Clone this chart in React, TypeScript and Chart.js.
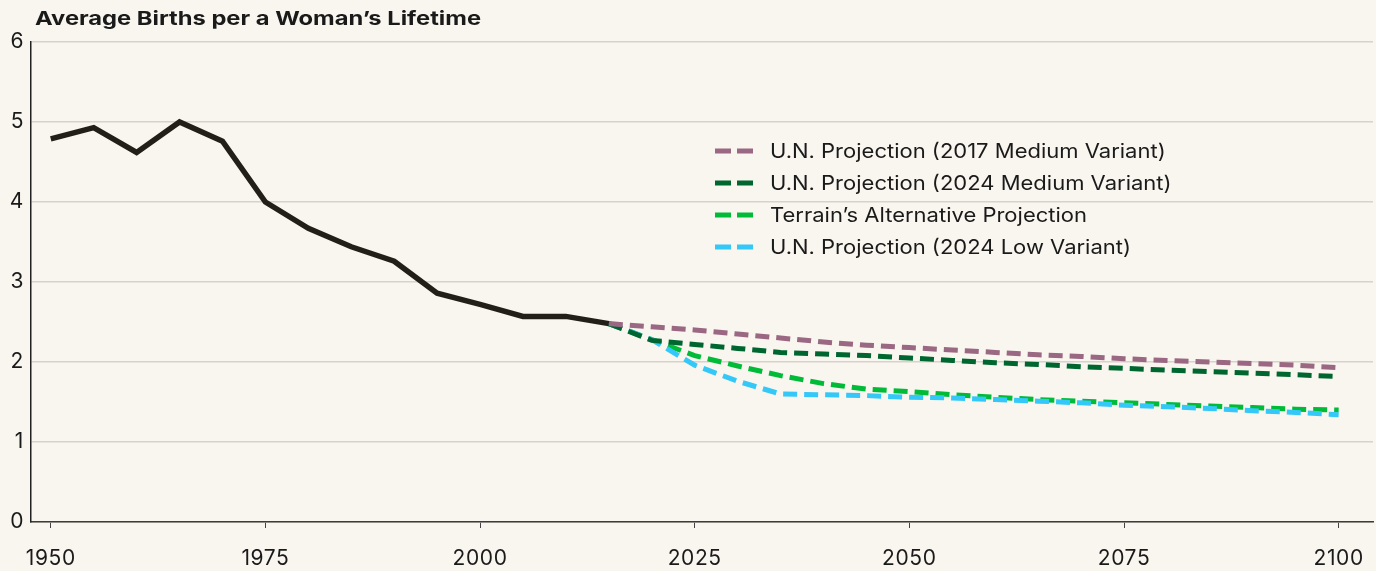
import React, { useEffect, useRef } from "react";
import { Chart, registerables } from "chart.js";

Chart.register(...registerables);

const titleText = "Average Births per a Woman\u2019s Lifetime";

const histYears = [1950, 1955, 1960, 1965, 1970, 1975, 1980, 1985, 1990, 1995, 2000, 2005, 2010, 2015];
const histValues = [4.79, 4.93, 4.62, 5.0, 4.76, 4.0, 3.67, 3.44, 3.26, 2.86, 2.72, 2.57, 2.57, 2.48];

const projYears = [2015, 2020, 2025, 2030, 2035, 2040, 2045, 2050, 2055, 2060, 2065, 2070, 2075, 2080, 2085, 2090, 2095, 2100];
const un2017Medium = [2.48, 2.44, 2.4, 2.35, 2.3, 2.25, 2.21, 2.18, 2.15, 2.12, 2.09, 2.07, 2.04, 2.02, 2.0, 1.98, 1.96, 1.93];
const un2024Medium = [2.48, 2.27, 2.22, 2.17, 2.12, 2.1, 2.08, 2.05, 2.02, 1.99, 1.97, 1.94, 1.92, 1.9, 1.88, 1.86, 1.84, 1.82];
const terrainAlt = [2.48, 2.28, 2.08, 1.95, 1.83, 1.73, 1.66, 1.63, 1.59, 1.56, 1.53, 1.51, 1.49, 1.47, 1.45, 1.43, 1.41, 1.4];
const un2024Low = [2.48, 2.28, 1.96, 1.76, 1.6, 1.59, 1.58, 1.56, 1.55, 1.53, 1.51, 1.49, 1.46, 1.44, 1.42, 1.39, 1.37, 1.34];

const seriesLabels = [
  "U.N. Projection (2017 Medium Variant)",
  "U.N. Projection (2024 Medium Variant)",
  "Terrain\u2019s Alternative Projection",
  "U.N. Projection (2024 Low Variant)",
];
const seriesColors = ["#9a6882", "#006630", "#00bb38", "#33c8f8"];
const seriesValues = [un2017Medium, un2024Medium, terrainAlt, un2024Low];
const seriesOrder = [1, 2, 4, 3];

const xTicks = [1950, 1975, 2000, 2025, 2050, 2075, 2100];
const yTicks = [0, 1, 2, 3, 4, 5, 6];

const BG = "#f9f5ef";
const FONT = "Inter";

const toPoints = (xs: number[], ys: number[]) => xs.map((x, i) => ({ x, y: ys[i] }));

const drawStretched = (ctx: any, text: string, x: number, y: number, targetWidth: number) => {
  const w = ctx.measureText(text).width;
  const sx = w > 0 ? targetWidth / w : 1;
  ctx.save();
  ctx.translate(x, y);
  ctx.scale(sx, 1);
  ctx.fillText(text, 0, 0);
  ctx.restore();
};

const overlayPlugin = {
  id: "overlay",
  beforeLayout(chart: any) {
    chart.ctx.letterSpacing = "0.6px";
  },
  beforeDraw(chart: any) {
    chart.ctx.letterSpacing = "0.6px";
  },
  afterDraw(chart: any) {
    const ctx = chart.ctx;
    ctx.save();
    ctx.letterSpacing = "0px";
    // title
    ctx.fillStyle = "#1a1a1a";
    ctx.font = `700 19px ${FONT}`;
    ctx.textBaseline = "middle";
    ctx.textAlign = "left";
    drawStretched(ctx, titleText, 35, 19, 446);
    // legend
    const x0 = 715;
    const y0 = 151;
    const step = 32;
    seriesLabels.forEach((label, i) => {
      const y = y0 + i * step;
      ctx.strokeStyle = seriesColors[i];
      ctx.lineWidth = 5;
      ctx.setLineDash([16, 6]);
      ctx.beginPath();
      ctx.moveTo(x0, y);
      ctx.lineTo(x0 + 38, y);
      ctx.stroke();
      ctx.setLineDash([]);
      ctx.fillStyle = "#1a1a1a";
      ctx.font = `400 20px ${FONT}`;
      ctx.textBaseline = "middle";
      const w = ctx.measureText(label).width;
      drawStretched(ctx, label, 770, y + 1, w * 1.1);
    });
    ctx.restore();
  },
};

export default function App() {
  const ref = useRef<HTMLCanvasElement | null>(null);

  useEffect(() => {
    document.body.style.margin = "0";
    document.body.style.background = BG;
    if (!ref.current) return;
    const datasets: any[] = [
      {
        label: "Historical",
        data: toPoints(histYears, histValues),
        borderColor: "#221f18",
        borderWidth: 5.5,
        pointRadius: 0,
        tension: 0,
        order: 0,
      },
      ...seriesLabels.map((label, i) => ({
        label,
        data: toPoints(projYears, seriesValues[i]),
        borderColor: seriesColors[i],
        borderWidth: 5,
        borderDash: [14, 7],
        pointRadius: 0,
        tension: 0,
        order: seriesOrder[i],
      })),
    ];
    const chart = new Chart(ref.current, {
      type: "line",
      data: { datasets },
      plugins: [overlayPlugin],
      options: {
        animation: false,
        responsive: true,
        maintainAspectRatio: false,
        layout: { padding: { top: 42, right: 3, bottom: 0, left: 0 } },
        plugins: {
          legend: { display: false },
          title: { display: false },
          tooltip: { enabled: false },
        },
        scales: {
          x: {
            type: "linear",
            min: 1947.7,
            max: 2104,
            afterBuildTicks: (scale: any) => {
              scale.ticks = xTicks.map((v) => ({ value: v }));
            },
            afterFit: (scale: any) => {
              scale.height = 49;
              scale.paddingLeft = 0;
              scale.paddingRight = 0;
            },
            grid: {
              display: true,
              drawOnChartArea: false,
              drawTicks: true,
              tickLength: 6,
              color: "#444",
              lineWidth: 1,
            },
            border: { display: true, color: "#3c3c3c", width: 1.5 },
            ticks: {
              autoSkip: false,
              maxRotation: 0,
              padding: 18,
              color: "#1a1a1a",
              font: { family: FONT, size: 21 },
              callback: (v: any) => String(v),
            },
          },
          y: {
            min: 0,
            max: 6,
            afterBuildTicks: (scale: any) => {
              scale.ticks = yTicks.map((v) => ({ value: v }));
            },
            afterFit: (scale: any) => {
              scale.width = 31;
              scale.paddingTop = 0;
              scale.paddingBottom = 0;
            },
            grid: {
              display: true,
              drawTicks: false,
              color: "#d8d2ca",
              lineWidth: 1.5,
            },
            border: { display: true, color: "#222", width: 1.5 },
            ticks: {
              padding: 7,
              color: "#1a1a1a",
              font: { family: FONT, size: 21 },
            },
          },
        },
      },
    });
    return () => chart.destroy();
  }, []);

  return (
    <div style={{ width: 1376, height: 571, background: BG, position: "relative" }}>
      <canvas ref={ref} />
    </div>
  );
}
